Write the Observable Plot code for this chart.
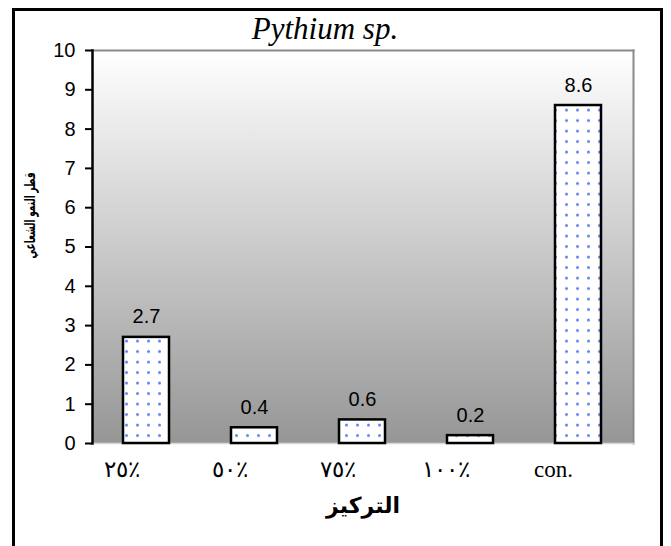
<!DOCTYPE html>
<html>
<head>
<meta charset="utf-8">
<script src="https://cdn.jsdelivr.net/npm/d3@7"></script>
<script src="https://cdn.jsdelivr.net/npm/@observablehq/plot@0.6"></script>
<style>
  body { margin: 0; background: #fff; }
  #chart { position: relative; width: 671px; height: 546px; overflow: hidden; }
  #chart svg { position: absolute; left: 0; top: 0; }
  #border { position: absolute; left: 12px; top: 8px; width: 651px; height: 560px;
            border: 3px solid #000; box-sizing: border-box; pointer-events: none; }
</style>
</head>
<body>
<div id="chart"><div id="border"></div></div>
<script>
// Radial growth diameter of Pythium sp. at each extract concentration
const concentrations = ["٢٥٪", "٥٠٪", "٧٥٪", "١٠٠٪", "con."];
const growth = [2.7, 0.4, 0.6, 0.2, 8.6];
const yTicks = [0, 1, 2, 3, 4, 5, 6, 7, 8, 9, 10];

const titleText = "Pythium sp.";
const xTitle = "التركيز";
const yTitle = "قطر النمو الشعاعي";

const data = concentrations.map((c, i) => ({conc: c, value: growth[i]}));

const sans = "Arial, 'Liberation Sans', 'DejaVu Sans', sans-serif";
const serif = "'Times New Roman', 'Liberation Serif', 'DejaVu Serif', serif";

// Gradient for the plotting area and the dotted fill for the bars
const defs = () => {
  const ns = "http://www.w3.org/2000/svg";
  const d = document.createElementNS(ns, "defs");
  d.innerHTML = `
    <linearGradient id="bgGrad" x1="0" y1="0" x2="0" y2="1">
      <stop offset="0" stop-color="#ffffff"/>
      <stop offset="1" stop-color="#969696"/>
    </linearGradient>
    <pattern id="dots" patternUnits="userSpaceOnUse" width="11" height="10.5">
      <rect width="11" height="10.5" fill="#ffffff"/>
      <circle cx="5.5" cy="5" r="1.5" fill="#5a80f2"/>
    </pattern>`;
  return d;
};

const chart = Plot.plot({
  width: 671,
  height: 546,
  marginLeft: 92,
  marginRight: 38,
  marginTop: 50,
  marginBottom: 103,
  style: {fontFamily: sans, fontSize: "20px", color: "#000", background: "transparent"},
  x: {domain: concentrations, paddingInner: 0.574, paddingOuter: 0.287, label: null},
  y: {domain: [0, 10], label: null},
  marks: [
    defs,
    Plot.frame({fill: "url(#bgGrad)", stroke: null}),
    Plot.frame({anchor: "top", stroke: "#8a8a8a", strokeWidth: 2}),
    Plot.frame({anchor: "right", stroke: "#8a8a8a", strokeWidth: 2}),
    Plot.frame({anchor: "bottom", stroke: "#d8d8d8", strokeWidth: 1.5}),
    Plot.barY(data, {x: "conc", y: "value", fill: "url(#dots)", stroke: "#000", strokeWidth: 2.5}),
    Plot.text(data, {x: "conc", y: "value", text: d => d.value.toFixed(1),
                     lineAnchor: "bottom", dy: -14, fontSize: 20}),
    Plot.axisY({ticks: yTicks, tickSize: 7, tickPadding: 10, tickFormat: d => d,
                stroke: "#000", strokeWidth: 2, label: null, fontSize: 20}),
    Plot.frame({anchor: "left", stroke: "#000", strokeWidth: 2.5}),
    Plot.axisX({tickSize: 0, tickPadding: 17, dx: -25, label: null,
                fontFamily: serif, fontSize: 23}),
    Plot.text([xTitle], {frameAnchor: "bottom", dy: 62, lineAnchor: "middle",
                         fontWeight: "bold", fontSize: 22}),
    Plot.text([yTitle], {frameAnchor: "top-left", dx: -62, dy: 165, rotate: -90,
                         textAnchor: "middle", lineAnchor: "middle",
                         fontWeight: "bold", fontSize: 15}),
    Plot.text([titleText], {frameAnchor: "top", dx: -38, dy: -12, lineAnchor: "bottom",
                            fontFamily: serif, fontStyle: "italic", fontSize: 31})
  ]
});

// Fit the vertical axis title into a compact run of text
for (const t of chart.querySelectorAll("text")) {
  if (t.textContent === yTitle) {
    t.setAttribute("textLength", 86);
    t.setAttribute("lengthAdjust", "spacingAndGlyphs");
  }
}

document.getElementById("chart").prepend(chart);
</script>
</body>
</html>
